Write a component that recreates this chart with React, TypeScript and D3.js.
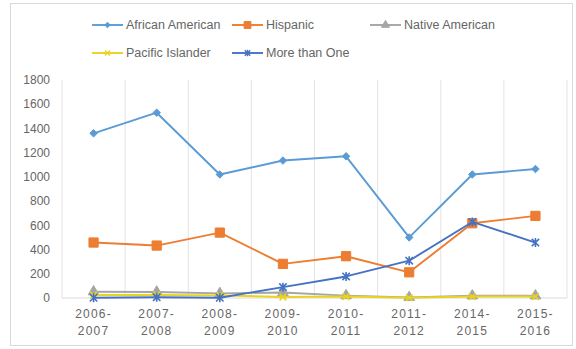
import React from "react";
import * as d3 from "d3";

const categories = ["2006-2007", "2007-2008", "2008-2009", "2009-2010", "2010-2011", "2011-2012", "2014-2015", "2015-2016"];
const africanAmerican = [1360, 1530, 1020, 1135, 1170, 500, 1020, 1065];
const hispanic = [458, 433, 540, 282, 345, 212, 617, 678];
const nativeAmerican = [52, 50, 38, 45, 20, 5, 18, 18];
const pacificIslander = [25, 25, 22, 8, 12, 2, 12, 12];
const moreThanOne = [2, 6, 2, 90, 178, 308, 628, 458];
const yTicks = [0, 200, 400, 600, 800, 1000, 1200, 1400, 1600, 1800];

const W = 576, H = 349;
const font = "'Liberation Sans', Arial, sans-serif";
const textColor = "#666666";

const diamondSymbol = {
  draw(ctx: any, size: number) {
    const r = Math.sqrt(size) / Math.SQRT2;
    ctx.moveTo(0, -r); ctx.lineTo(r, 0); ctx.lineTo(0, r); ctx.lineTo(-r, 0); ctx.closePath();
  },
};
const starSymbol = {
  draw(ctx: any, size: number) {
    const r = Math.sqrt(size) / 2;
    ctx.moveTo(-r, -r); ctx.lineTo(r, r);
    ctx.moveTo(-r, r); ctx.lineTo(r, -r);
    ctx.moveTo(0, -r * 1.2); ctx.lineTo(0, r * 1.2);
  },
};
const xSymbol = {
  draw(ctx: any, size: number) {
    const r = Math.sqrt(size) / 2;
    ctx.moveTo(-r, -r); ctx.lineTo(r, r);
    ctx.moveTo(-r, r); ctx.lineTo(r, -r);
  },
};

type Series = { name: string; values: number[]; color: string; sym: any; size: number; fill: boolean };
const series: Series[] = [
  { name: "African American", values: africanAmerican, color: "#5B9BD5", sym: diamondSymbol, size: 28, fill: true },
  { name: "Hispanic", values: hispanic, color: "#ED7D31", sym: d3.symbolSquare, size: 85, fill: true },
  { name: "Native American", values: nativeAmerican, color: "#A5A5A5", sym: d3.symbolTriangle, size: 50, fill: true },
  { name: "Pacific Islander", values: pacificIslander, color: "#E8D41E", sym: xSymbol, size: 45, fill: false },
  { name: "More than One", values: moreThanOne, color: "#4472C4", sym: starSymbol, size: 55, fill: false },
];

const legendPos = [
  { x: 92, y: 25 }, { x: 232, y: 25 }, { x: 370, y: 25 },
  { x: 92, y: 53 }, { x: 232, y: 53 },
];

export default function App() {
  const x = d3.scaleBand<string>().domain(categories).range([62, 567]);
  const y = d3.scaleLinear().domain([0, 1800]).range([298, 80]);
  const line = d3.line<number>()
    .x((_, i) => (x(categories[i]) as number) + x.bandwidth() / 2)
    .y((d) => y(d));
  const bounds = categories.map((c) => x(c) as number).concat([567]);

  return (
    <svg width={W} height={H} style={{ position: "absolute", left: 0, top: 0, background: "#fff" }}>
      <rect x={10.5} y={3.5} width={562} height={342} fill="#fff" stroke="#D9D9D9" />
      {bounds.map((b, i) => (
        <line key={i} x1={b} x2={b} y1={80} y2={298} stroke="#E3E3E3" strokeWidth={1} />
      ))}
      <line x1={62} x2={567} y1={y(0)} y2={y(0)} stroke="#D9D9D9" />
      {yTicks.map((t) => (
        <text key={t} x={50} y={y(t)} dy="0.35em" textAnchor="end" fontFamily={font} fontSize={12} fill={textColor}>
          {t}
        </text>
      ))}
      {categories.map((c) => {
        const [a, b] = c.split("-");
        const cx = (x(c) as number) + x.bandwidth() / 2;
        return (
          <text key={c} x={cx} textAnchor="middle" fontFamily={font} fontSize={12} fill={textColor} letterSpacing={1.2}>
            <tspan x={cx} y={318}>{a + "-"}</tspan>
            <tspan x={cx} y={335}>{b}</tspan>
          </text>
        );
      })}
      {series.map((s) => (
        <g key={s.name}>
          <path d={line(s.values) as string} fill="none" stroke={s.color} strokeWidth={1.9} strokeLinejoin="round" />
          {s.values.map((v, i) => {
            const cx = (x(categories[i]) as number) + x.bandwidth() / 2;
            const p = d3.symbol().type(s.sym).size(s.size)() as string;
            return (
              <path key={i} d={p} transform={`translate(${cx},${y(v)})`}
                fill={s.fill ? s.color : "none"} stroke={s.color} strokeWidth={s.fill ? 1 : 1.6} />
            );
          })}
        </g>
      ))}
      {series.map((s, i) => {
        const p = legendPos[i];
        const sp = d3.symbol().type(s.sym).size(s.size * 0.55)() as string;
        return (
          <g key={s.name}>
            <line x1={p.x} x2={p.x + 31} y1={p.y} y2={p.y} stroke={s.color} strokeWidth={1.9} />
            <path d={sp} transform={`translate(${p.x + 15.5},${p.y})`} fill={s.fill ? s.color : "none"} stroke={s.color} strokeWidth={s.fill ? 1 : 1.4} />
            <text x={p.x + 34} y={p.y} dy="0.35em" fontFamily={font} fontSize={12.5} fill={textColor}>{s.name}</text>
          </g>
        );
      })}
    </svg>
  );
}
